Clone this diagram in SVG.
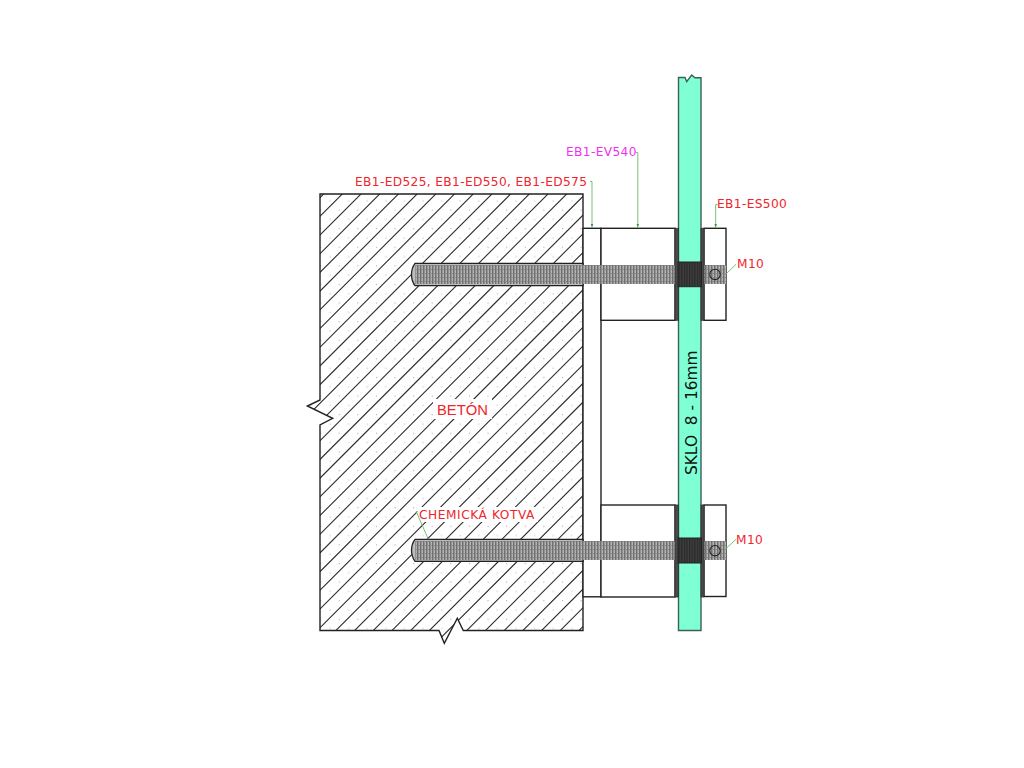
<svg xmlns="http://www.w3.org/2000/svg" width="1024" height="768" viewBox="0 0 1024 768">
<style>
.o{fill:#fff;stroke:#222;stroke-width:1.4}
.g{fill:#4a4a4a;stroke:#333;stroke-width:.8}
.t{font-family:"DejaVu Sans",Verdana,sans-serif;font-size:12.2px;letter-spacing:.36px;fill:#f0242c}
.l{fill:none;stroke:#6cb86c;stroke-width:.9}
.a{fill:#3f943f}
.h{fill:none;stroke:#2c2c2c;stroke-width:1.1}
.hole{fill:#bdbdbd;stroke:#222;stroke-width:1.3}
</style>
<defs>
<pattern id="dots" patternUnits="userSpaceOnUse" width="18.6" height="18.6">
<rect x="4" y="5" width="1" height="1" fill="#999"/>
<rect x="13.3" y="14.3" width="1" height="1" fill="#aaa"/>
</pattern>
<pattern id="thread" patternUnits="userSpaceOnUse" width="3" height="4">
<rect width="3" height="4" fill="#b4b4b4"/>
<rect width="1.5" height="4" fill="#707070"/>
<rect y="1" x="1.5" width="1.5" height="1" fill="#8c8c8c"/>
</pattern>
<pattern id="dark" patternUnits="userSpaceOnUse" width="2.6" height="4">
<rect width="2.6" height="4" fill="#404040"/>
<rect width="1.3" height="4" fill="#2a2a2a"/>
</pattern>
<clipPath id="cc"><path d="M320 194H583V630.5H463.3L457.3 618.3L444.3 643.3L439 630.5H320V425L332.7 418.3L307.3 406L320 400Z"/></clipPath>
</defs>

<g id="concrete">
<path d="M320 194H583V630.5H463.3L457.3 618.3L444.3 643.3L439 630.5H320V425L332.7 418.3L307.3 406L320 400Z" fill="#fff"/>
<rect x="300" y="190" width="290" height="460" fill="url(#dots)" clip-path="url(#cc)"/>
<path class="h" clip-path="url(#cc)" d="M367.6 150l-500 500M386.3 150l-500 500M405 150l-500 500M423.7 150l-500 500M442.4 150l-500 500M461.1 150l-500 500M479.8 150l-500 500M498.5 150l-500 500M517.2 150l-500 500M535.9 150l-500 500M554.6 150l-500 500M573.3 150l-500 500M592 150l-500 500M610.7 150l-500 500M629.4 150l-500 500M648.1 150l-500 500M666.8 150l-500 500M685.5 150l-500 500M704.2 150l-500 500M722.9 150l-500 500M741.6 150l-500 500M760.3 150l-500 500M779 150l-500 500M797.7 150l-500 500M816.4 150l-500 500M835.1 150l-500 500M853.8 150l-500 500M872.5 150l-500 500M891.2 150l-500 500M909.9 150l-500 500M928.6 150l-500 500M947.3 150l-500 500M966 150l-500 500M984.7 150l-500 500M1003.4 150l-500 500M1022.1 150l-500 500M1040.8 150l-500 500M1059.5 150l-500 500"/>
<path d="M320 194H583V630.5H463.3L457.3 618.3L444.3 643.3L439 630.5H320V425L332.7 418.3L307.3 406L320 400Z" fill="none" stroke="#222" stroke-width="1.4"/>
<rect x="433" y="399" width="59" height="20" fill="#fff"/>
<rect x="417" y="507" width="121" height="15" fill="#fff"/>
</g>

<g id="plate"><rect class="o" x="583" y="228.3" width="18" height="368.5"/></g>
<g id="barrel-top"><rect class="o" x="601" y="228.3" width="74" height="92"/></g>
<g id="barrel-bottom"><rect class="o" x="601" y="505" width="74" height="92"/></g>
<g id="cap-top"><rect class="o" x="704" y="228.3" width="22" height="92"/></g>
<g id="cap-bottom"><rect class="o" x="704" y="505" width="22" height="91.5"/></g>

<g id="rod-top">
<path class="hole" d="M583 263.3H415Q411.5 268 411.5 274.5Q411.5 281 415 285.7H583Z"/>
<rect x="415" y="265" width="311" height="19" fill="url(#thread)"/>
</g>
<g id="rod-bottom">
<path class="hole" d="M583 539.3H415Q411.5 544 411.5 550.3Q411.5 556.6 415 561.3H583Z"/>
<rect x="415" y="541" width="311" height="19" fill="url(#thread)"/>
</g>

<g id="glass"><path d="M678.5 77.5H685L686.7 81.7L691.7 75L695 77.7H701V630.5H678.5Z" fill="#7fffd4" stroke="#3c5f58" stroke-width="1.4"/></g>

<g id="gaskets">
<rect class="g" x="675" y="228.3" width="3.5" height="92"/>
<rect class="g" x="701" y="228.3" width="3" height="92"/>
<rect class="g" x="675" y="505" width="3.5" height="92"/>
<rect class="g" x="701" y="505" width="3" height="92"/>
</g>
<g id="sleeves">
<rect x="678" y="262" width="23.5" height="24.7" fill="url(#dark)" stroke="#222"/>
<rect x="678" y="538" width="23.5" height="25" fill="url(#dark)" stroke="#222"/>
</g>
<g id="pins">
<circle cx="715" cy="274.4" r="5.2" fill="none" stroke="#222" stroke-width="1.1"/>
<circle cx="715" cy="550.7" r="5.2" fill="none" stroke="#222" stroke-width="1.1"/>
</g>

<g id="connectors">
<path class="l" d="M636 152.5H637.8V225"/><path class="a" d="M636.6 224h2.4l-1.2 4.3z"/>
<path class="l" d="M590 181.5H592V225"/><path class="a" d="M590.8 224h2.4l-1.2 4.3z"/>
<path class="l" d="M717.5 204.5H715.7V225"/><path class="a" d="M714.5 224h2.4l-1.2 4.3z"/>
<path class="l" d="M736 264.3L725.5 274.5"/>
<path class="l" d="M736 539.3L725 549.5"/>
<path class="l" d="M418 511.7H416.3L428.3 539.3"/>
</g>

<g id="labels">
<text class="t" x="355" y="186">EB1-ED525, EB1-ED550, EB1-ED575</text>
<text class="t" x="566" y="156.4" style="fill:#f030f0">EB1-EV540</text>
<text class="t" x="717" y="208.4">EB1-ES500</text>
<text class="t" x="737" y="268.4">M10</text>
<text class="t" x="736" y="544.4">M10</text>
<text class="t" x="419" y="518.6" style="letter-spacing:.55px">CHEMICKÁ KOTVA</text>
<text x="437" y="414.5" style="font-family:'Liberation Sans',Arial,sans-serif;font-size:14.8px;fill:#f0242c">BETÓN</text>
<text transform="translate(696.5 475) rotate(-90)" style="font-family:'DejaVu Sans',Verdana,sans-serif;font-size:15.4px;fill:#111;white-space:pre">SKLO  8 - 16mm</text>
</g>
</svg>
